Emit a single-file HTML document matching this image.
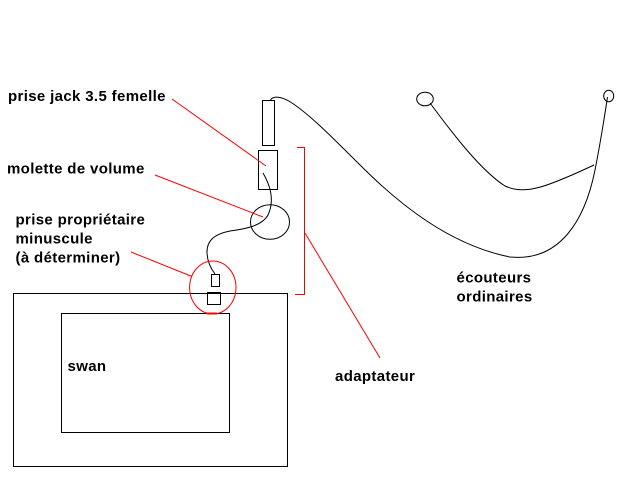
<!DOCTYPE html>
<html>
<head>
<meta charset="utf-8">
<style>
html,body{margin:0;padding:0;background:#fff;}
svg{display:block;}
text{font-family:"Liberation Sans",Arial,sans-serif;font-weight:bold;font-size:15px;letter-spacing:0.35px;fill:#000;}
</style>
</head>
<body>
<svg width="640" height="480" viewBox="0 0 640 480" xmlns="http://www.w3.org/2000/svg">
<rect x="0" y="0" width="640" height="480" fill="#fff"/>
<g fill="none" stroke="#000" stroke-width="1">
  <!-- swan boxes -->
  <rect x="13.5" y="293.5" width="274" height="173"/>
  <rect x="61.5" y="313.5" width="168" height="119"/>
  <!-- adapter parts -->
  <rect x="262.5" y="100.5" width="12" height="45"/>
  <rect x="258.5" y="150.5" width="19" height="39"/>
  <ellipse cx="270" cy="222" rx="19.5" ry="17.3"/>
  <rect x="211.5" y="274.5" width="8" height="12"/>
  <rect x="207.5" y="292.5" width="13" height="12"/>
  <!-- inner cable -->
  <path d="M263,173 C270,185 275,200 268,215 C262,226 245,229 230,231 C215,234 207,240 207,252 C207,262 212,270 215,274"/>
  <!-- main earphone cable -->
  <path d="M270,101 C272,96 280,95 292,103 C310,115 330,135 360,165 C400,205 450,245 510,257 C560,262 585,220 595,170 C600,145 604,120 607.5,97"/>
  <!-- left earphone branch -->
  <path d="M430,103 C450,130 480,170 505,186 C525,195 545,188 594,165"/>
  <!-- earbuds -->
  <ellipse cx="425" cy="99" rx="8.3" ry="6.8"/>
  <ellipse cx="608.7" cy="96" rx="5" ry="5.8"/>
</g>
<g fill="none" stroke="#ff0000" stroke-width="1">
  <ellipse cx="212.8" cy="287.5" rx="23.2" ry="26.5"/>
  <line x1="172" y1="99" x2="266" y2="166"/>
  <line x1="155" y1="175" x2="263" y2="217"/>
  <line x1="131" y1="252" x2="192" y2="276.5"/>
  <polyline points="297,147.5 304.5,147.5 304.5,294.5 295,294.5"/>
  <line x1="305" y1="233" x2="380" y2="358"/>
</g>
<rect x="207" y="312.5" width="10" height="2" fill="#ff0000"/>
<text x="8" y="101">prise jack 3.5 femelle</text>
<text x="7" y="173.5">molette de volume</text>
<text x="15.5" y="224.5">prise propriétaire</text>
<text x="15.5" y="243.5">minuscule</text>
<text x="15.5" y="262.5">(à déterminer)</text>
<text x="67.5" y="371">swan</text>
<text x="335" y="381">adaptateur</text>
<text x="456.5" y="282.5">écouteurs</text>
<text x="456.5" y="301.5">ordinaires</text>
</svg>
</body>
</html>
